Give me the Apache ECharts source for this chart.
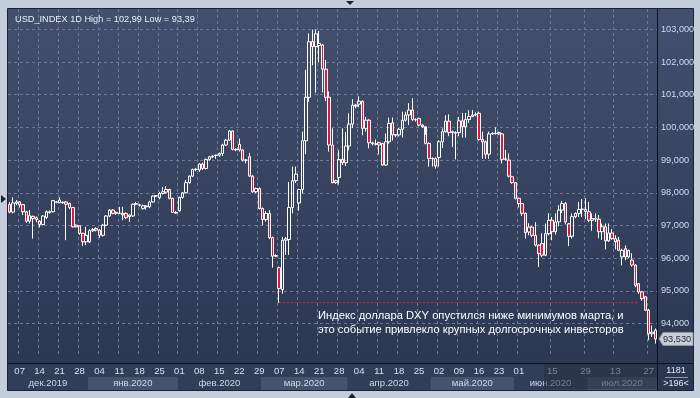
<!DOCTYPE html>
<html>
<head>
<meta charset="utf-8">
<script src="https://cdn.jsdelivr.net/npm/echarts@6/dist/echarts.min.js"></script>
<style>
html, body { margin: 0; padding: 0; background: #c4cddb; }
#chart { width: 700px; height: 398px; }
</style>
</head>
<body>
<div id="chart"></div>
<script>
// USD_INDEX daily bars: [open, close, low, high]
const bars = [
  [97.64, 97.41, 97.37, 97.72], [97.41, 97.69, 97.37, 97.86], [97.68, 97.72, 97.62, 97.78], [97.72, 97.63, 97.55, 97.75],
  [97.64, 97.42, 97.32, 97.66], [97.42, 97.13, 97.08, 97.45], [97.13, 97.30, 97.06, 97.47], [97.28, 97.21, 96.60, 97.30],
  [97.24, 97.18, 97.10, 97.28], [97.13, 97.03, 96.94, 97.16], [97.03, 97.29, 97.00, 97.32], [97.25, 97.42, 97.20, 97.46],
  [97.40, 97.42, 97.36, 97.46], [97.42, 97.76, 97.40, 97.78], [97.71, 97.72, 97.68, 97.75], [97.70, 97.78, 97.68, 97.86],
  [97.70, 97.71, 97.66, 97.74], [97.72, 97.65, 96.55, 97.75], [97.67, 97.55, 97.50, 97.70], [97.55, 96.96, 96.94, 97.57],
  [97.01, 96.96, 96.94, 97.03], [96.99, 96.76, 96.72, 97.00], [96.76, 96.50, 96.37, 96.78], [96.50, 96.70, 96.40, 96.96],
  [96.50, 96.84, 96.46, 96.88], [96.84, 96.88, 96.80, 96.92], [96.86, 96.91, 96.82, 96.94], [96.86, 96.70, 96.62, 96.88],
  [96.70, 97.01, 96.66, 97.05], [97.01, 97.29, 96.98, 97.32], [97.29, 97.47, 97.26, 97.50], [97.47, 97.37, 97.34, 97.50],
  [97.37, 97.40, 97.33, 97.43], [97.37, 97.38, 97.35, 97.57], [97.33, 97.37, 97.16, 97.57], [97.37, 97.24, 97.20, 97.40],
  [97.27, 97.32, 97.11, 97.34], [97.29, 97.65, 97.27, 97.67], [97.65, 97.67, 97.62, 97.72], [97.63, 97.62, 97.58, 97.66],
  [97.52, 97.60, 97.48, 97.64], [97.57, 97.60, 97.48, 97.62], [97.57, 97.72, 97.53, 97.76], [97.72, 97.90, 97.70, 97.92],
  [97.90, 97.91, 97.87, 97.93], [97.85, 97.98, 97.80, 98.03], [97.98, 98.03, 97.95, 98.18], [98.02, 98.10, 97.98, 98.20],
  [98.10, 97.83, 97.80, 98.12], [97.83, 97.40, 97.38, 97.85], [97.40, 97.38, 97.36, 97.44], [97.45, 97.86, 97.42, 97.88],
  [97.86, 98.00, 97.82, 98.02], [98.00, 98.31, 97.98, 98.39], [98.31, 98.51, 98.28, 98.53], [98.51, 98.71, 98.48, 98.74],
  [98.71, 98.72, 98.66, 98.76], [98.70, 98.88, 98.64, 98.90], [98.88, 98.74, 98.70, 98.92], [98.74, 99.02, 98.72, 99.05],
  [99.02, 99.10, 98.98, 99.13], [99.10, 99.12, 99.06, 99.16], [99.14, 99.15, 99.04, 99.17], [99.15, 99.20, 99.10, 99.23],
  [99.20, 99.46, 99.12, 99.50], [99.46, 99.61, 99.44, 99.64], [99.61, 99.89, 99.58, 99.92], [99.89, 99.33, 99.30, 99.91],
  [99.33, 99.31, 99.27, 99.36], [99.48, 99.31, 99.26, 99.66], [99.31, 99.00, 98.96, 99.33], [99.00, 99.00, 98.90, 99.03],
  [99.10, 98.51, 98.49, 99.22], [98.51, 98.03, 98.00, 98.54], [98.03, 98.13, 97.99, 98.16], [98.13, 97.52, 97.49, 98.16],
  [97.52, 97.18, 97.01, 97.55], [97.18, 97.37, 97.12, 97.44], [97.37, 96.63, 96.58, 97.47], [96.63, 96.06, 95.71, 96.66],
  [96.06, 96.08, 96.03, 96.12], [95.71, 95.07, 94.63, 95.75], [95.04, 96.55, 94.91, 96.65], [96.55, 96.59, 96.10, 96.65],
  [96.57, 97.55, 96.10, 98.33], [97.55, 98.37, 97.37, 98.80], [98.37, 98.57, 98.30, 98.80], [97.69, 98.10, 97.45, 98.12],
  [98.10, 99.59, 97.98, 99.87], [99.59, 100.92, 99.18, 101.76], [100.92, 102.62, 100.78, 102.87], [102.62, 102.47, 101.90, 102.99],
  [102.47, 102.86, 101.06, 102.99], [102.50, 102.57, 101.99, 102.95], [102.52, 101.78, 101.07, 102.55], [101.78, 100.92, 100.80, 102.06],
  [100.92, 99.46, 99.26, 101.10], [99.46, 98.31, 98.29, 99.97], [98.31, 98.37, 98.27, 98.40], [98.47, 99.02, 98.25, 99.31],
  [99.02, 98.92, 98.85, 99.97], [98.92, 99.43, 98.82, 99.86], [99.43, 100.10, 99.30, 100.43], [100.10, 100.68, 99.98, 100.86],
  [100.68, 100.65, 100.58, 100.72], [100.71, 100.80, 100.62, 100.95], [100.80, 99.97, 99.76, 100.82], [99.97, 100.22, 99.87, 100.32],
  [100.22, 99.53, 99.36, 100.25], [99.53, 99.50, 99.45, 99.56], [99.49, 99.49, 99.45, 99.63], [99.53, 99.46, 99.17, 99.56],
  [99.51, 98.85, 98.83, 99.53], [98.85, 99.56, 98.82, 99.81], [99.56, 100.12, 99.50, 100.30], [100.14, 99.77, 99.60, 100.30],
  [99.78, 99.76, 99.70, 99.80], [99.77, 99.94, 99.72, 99.98], [99.94, 100.22, 99.69, 100.48], [100.22, 100.38, 100.18, 100.48],
  [100.38, 100.53, 100.07, 100.74], [100.53, 100.24, 100.20, 100.89], [100.24, 100.23, 100.18, 100.28], [100.27, 100.07, 100.03, 100.30],
  [100.07, 100.02, 99.98, 100.10], [100.02, 99.51, 99.48, 99.77], [99.51, 99.05, 98.80, 99.54], [99.05, 99.04, 98.80, 99.08],
  [99.05, 98.82, 98.74, 99.08], [99.08, 99.56, 98.80, 99.61], [99.56, 99.87, 99.37, 99.97], [99.87, 100.19, 99.84, 100.37],
  [100.19, 99.84, 99.73, 100.40], [99.87, 99.84, 99.40, 99.90], [99.84, 99.82, 99.02, 99.88], [99.84, 100.20, 99.73, 100.32],
  [100.20, 100.02, 99.69, 100.44], [100.02, 100.24, 99.69, 100.44], [100.24, 100.33, 100.14, 100.53], [100.33, 100.38, 100.33, 100.53],
  [100.38, 100.39, 100.34, 100.46], [100.43, 99.63, 99.59, 100.48], [99.63, 99.56, 99.04, 99.87], [99.56, 99.18, 99.04, 99.60],
  [99.18, 99.80, 99.04, 99.87], [99.80, 99.82, 99.77, 99.85], [99.82, 99.81, 99.78, 100.00], [99.80, 99.84, 99.77, 99.87],
  [99.80, 99.02, 98.90, 99.83], [99.02, 99.04, 98.98, 99.31], [99.00, 98.51, 98.47, 99.20], [98.49, 98.31, 98.28, 98.52],
  [98.31, 97.83, 97.80, 98.33], [97.83, 97.67, 97.55, 97.85], [97.67, 97.37, 97.29, 97.69], [97.37, 96.78, 96.60, 97.40],
  [96.80, 96.95, 96.70, 97.07], [96.95, 96.70, 96.64, 96.98], [96.70, 96.40, 96.36, 97.10], [96.40, 96.14, 95.73, 96.42],
  [96.45, 96.09, 96.03, 96.76], [96.09, 96.75, 96.06, 97.06], [96.75, 97.16, 96.70, 97.37], [97.16, 96.81, 96.55, 97.26],
  [96.81, 97.11, 96.72, 97.37], [97.11, 97.47, 96.98, 97.62], [97.47, 97.67, 97.38, 97.75], [97.67, 97.11, 97.03, 97.72],
  [97.05, 96.67, 96.37, 97.08], [96.67, 97.27, 96.60, 97.37], [97.27, 97.37, 97.22, 97.40], [97.37, 97.49, 97.26, 97.72],
  [97.49, 97.50, 97.26, 97.81], [97.43, 97.49, 97.20, 97.84], [97.42, 97.16, 97.10, 97.72], [97.16, 97.21, 96.84, 97.37],
  [97.19, 97.22, 97.11, 97.37], [97.19, 96.81, 96.61, 97.32], [96.81, 96.96, 96.56, 97.06], [96.96, 96.53, 96.27, 97.06],
  [96.53, 96.77, 96.50, 97.06], [96.77, 96.60, 96.56, 96.89], [96.60, 96.50, 96.27, 96.70], [96.55, 96.24, 96.24, 96.65],
  [96.04, 96.24, 95.78, 96.29], [96.29, 96.04, 95.94, 96.39], [96.04, 96.24, 96.00, 96.26], [95.94, 95.79, 95.74, 96.15],
  [95.79, 95.17, 95.11, 95.81], [95.22, 94.97, 94.91, 95.24], [94.97, 94.76, 94.70, 95.00], [94.82, 94.41, 94.38, 94.85],
  [94.41, 93.69, 93.49, 94.45], [93.69, 93.74, 93.59, 93.94], [93.80, 93.53, 93.39, 93.85]
];

// weekly date ticks (bar index where the label sits)
const tickIdx = [3, 9, 15, 21, 27, 33, 39, 45, 51, 57, 63, 69, 75, 81, 87, 93, 99, 105, 111, 117, 123, 129, 135, 141, 147, 153, 163, 173, 182, 192];
const tickDays = ['07', '14', '21', '28', '04', '11', '18', '25', '01', '08', '15', '22', '29', '07', '14', '21', '28', '04', '11', '18', '25', '02', '09', '16', '23', '01', '15', '29', '13', '27'];

// month row
const months = ['дек.2019', 'янв.2020', 'фев.2020', 'мар.2020', 'апр.2020', 'май.2020', 'июн.2020', 'июл.2020'];
const monthFirstBar = [0, 24, 51, 76, 102, 127, 152, 174];

const marchLow = 94.64;
const lowLineFrom = 81;
const lowLineTo = 189;
const lastPrice = 93.53;

const categories = bars.map((b, i) => String(i));

const fmt = v => v.toFixed(3).replace('.', ',');
const font = 'Liberation Sans';
const small = '9px "' + font + '"';

const chart = echarts.init(document.getElementById('chart'));

const option = {
  backgroundColor: '#c4cddb',
  animation: false,
  title: {
    text: 'USD_INDEX 1D High = 102,99 Low = 93,39',
    left: 10,
    top: 10,
    textStyle: { color: '#e8eef7', fontSize: 9.2, fontWeight: 'normal', fontFamily: font }
  },
  grid: { left: 8, right: 43, top: 9, bottom: 41.7 },
  xAxis: {
    type: 'category',
    data: categories,
    boundaryGap: true,
    axisLine: { show: false },
    axisTick: { show: false },
    axisLabel: {
      interval: (i) => tickIdx.indexOf(i) >= 0,
      formatter: (v, i) => tickDays[tickIdx.indexOf(i)],
      margin: 10,
      color: '#d4e0ef',
      fontSize: 9.5,
      fontFamily: font
    },
    splitLine: {
      show: true,
      interval: (i) => tickIdx.indexOf(i) >= 0,
      lineStyle: { color: '#6b7a97', type: [3, 3], width: 1 }
    }
  },
  yAxis: {
    type: 'value',
    position: 'right',
    min: 93,
    max: 103.62,
    interval: 1,
    axisLine: { show: true, lineStyle: { color: '#0c1120', width: 1 } },
    axisTick: { show: false },
    axisLabel: {
      margin: 4,
      color: '#cbdcf2',
      fontSize: 9.2,
      fontFamily: font,
      showMinLabel: false,
      showMaxLabel: false,
      formatter: fmt
    },
    splitLine: {
      show: true,
      showMinLine: false,
      showMaxLine: false,
      lineStyle: { color: '#6b7a97', type: [3, 3], width: 1 }
    }
  },
  series: [
    {
      type: 'candlestick',
      data: bars,
      barWidth: 3,
      itemStyle: {
        color: 'rgba(0,0,0,0)',
        color0: '#e3163c',
        borderColor: '#ffffff',
        borderColor0: '#ffffff',
        borderWidth: 1
      },
      markLine: {
        silent: true,
        symbol: 'none',
        label: { show: false },
        lineStyle: { color: '#e0202e', type: [2, 2], width: 1 },
        data: [[
          { coord: [String(lowLineFrom), marchLow] },
          { coord: [String(lowLineTo), marchLow] }
        ]]
      }
    }
  ]
};

chart.setOption(option);

// frame, bottom panel and annotations, placed through the chart's own scales
const px = i => chart.convertToPixel({ xAxisIndex: 0 }, String(i));
const py = v => chart.convertToPixel({ yAxisIndex: 0 }, v);
const barW = px(1) - px(0);
const plotLeft = 8, plotRight = 657, panelTop = 363, panelBottom = 390;

const graphics = [
  {
    type: 'rect', z: -10, silent: true,
    shape: { x: 7.5, y: 8.5, width: 686, height: 382 },
    style: {
      fill: new echarts.graphic.LinearGradient(0, 0, 0, 1, [
        { offset: 0, color: '#434f6c' },
        { offset: 1, color: '#2a3550' }
      ]),
      stroke: '#1b2233', lineWidth: 1
    }
  },
  {
    type: 'rect', z: -5, silent: true,
    shape: { x: plotLeft, y: panelTop, width: plotRight - plotLeft, height: panelBottom - panelTop },
    style: { fill: '#323d57' }
  }
];

months.forEach((m, k) => {
  const x0 = k === 0 ? plotLeft : px(monthFirstBar[k]) - barW / 2;
  const x1 = k === months.length - 1 ? plotRight : px(monthFirstBar[k + 1]) - barW / 2;
  if (k % 2 === 1) {
    graphics.push({
      type: 'rect', z: -4, silent: true,
      shape: { x: x0, y: 377, width: x1 - x0, height: panelBottom - 377 },
      style: { fill: '#47536d' }
    });
  }
  graphics.push({
    type: 'text', z: 5, silent: true,
    style: {
      text: m, x: (x0 + x1) / 2, y: 383.5, fill: '#ccd8ea',
      font: '9.5px "' + font + '"', align: 'center', verticalAlign: 'middle'
    }
  });
});

// dimmed scroll area over the last weeks of the date row
const dimX = px(161) - barW / 2;
graphics.push({
  type: 'rect', z: 20, silent: true,
  shape: { x: dimX, y: panelTop + 1, width: plotRight - dimX, height: panelBottom - panelTop - 2 },
  style: { fill: 'rgba(38,48,68,0.55)' }
});

// divider lines
graphics.push(
  { type: 'line', z: 30, silent: true, shape: { x1: 8, y1: panelTop + 0.5, x2: 693, y2: panelTop + 0.5 }, style: { stroke: '#0c1120', lineWidth: 1 } },
  { type: 'line', z: 30, silent: true, shape: { x1: plotRight + 0.5, y1: 9, x2: plotRight + 0.5, y2: panelBottom }, style: { stroke: '#0c1120', lineWidth: 1 } }
);

// bottom right counters
graphics.push(
  { type: 'text', z: 30, silent: true, style: { text: '1181', x: 676, y: 371, fill: '#e6edf7', font: small, align: 'center', verticalAlign: 'middle' } },
  { type: 'line', z: 30, silent: true, shape: { x1: 665, y1: 377.5, x2: 688, y2: 377.5 }, style: { stroke: '#8a97b0', lineWidth: 1 } },
  { type: 'text', z: 30, silent: true, style: { text: '>196<', x: 676, y: 384, fill: '#e6edf7', font: small, align: 'center', verticalAlign: 'middle' } }
);

// last price tag
const tagY = py(lastPrice);
graphics.push(
  {
    type: 'polygon', z: 30, silent: true,
    shape: { points: [[plotRight + 2, tagY], [plotRight + 6, tagY - 6.5], [693, tagY - 6.5], [693, tagY + 6.5], [plotRight + 6, tagY + 6.5]] },
    style: { fill: '#c9ced6', stroke: '#8d96a6', lineWidth: 1 }
  },
  { type: 'text', z: 31, silent: true, style: { text: fmt(lastPrice), x: plotRight + 6, y: tagY, fill: '#1e2638', font: '9.2px "' + font + '"', verticalAlign: 'middle' } }
);

// annotation
graphics.push(
  { type: 'text', z: 25, silent: true, style: { text: 'Индекс доллара DXY опустился ниже минимумов марта, и', x: 318, y: 316, fill: '#ffffff', font: '11.2px "' + font + '"', verticalAlign: 'middle' } },
  { type: 'text', z: 25, silent: true, style: { text: 'это событие привлекло крупных долгосрочных инвесторов', x: 318, y: 330, fill: '#ffffff', font: '11.2px "' + font + '"', verticalAlign: 'middle' } }
);

// frame markers
graphics.push(
  { type: 'polygon', z: 30, silent: true, shape: { points: [[346, 1], [354, 1], [350, 5]] }, style: { fill: '#1b2233' } },
  { type: 'polygon', z: 30, silent: true, shape: { points: [[348, 398], [356, 398], [352, 393]] }, style: { fill: '#1b2233' } },
  { type: 'polygon', z: 30, silent: true, shape: { points: [[1, 195], [1, 203], [6, 199]] }, style: { fill: '#1b2233' } }
);

chart.setOption({ graphic: graphics });
</script>
</body>
</html>
